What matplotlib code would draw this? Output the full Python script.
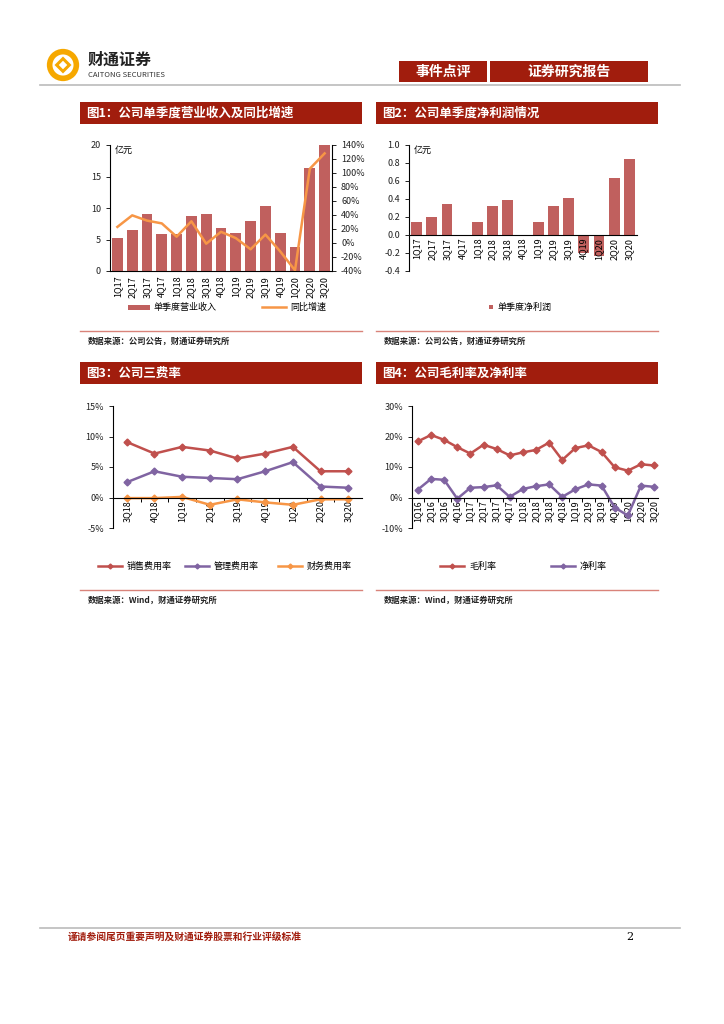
import matplotlib.pyplot as plt
import matplotlib.patches as mpatches
from matplotlib.lines import Line2D
from matplotlib.ticker import FuncFormatter, FixedLocator
import numpy as np

plt.rcParams['font.family'] = ['Noto Sans CJK SC', 'DejaVu Sans']
plt.rcParams['axes.linewidth'] = 0.8

W, H = 724, 1024
RED = '#A11D0D'
BAR = '#C0605E'
ORANGE = '#F79646'
PURPLE = '#8064A2'
LRED = '#C0504D'

# ---- data ----
q1 = ['1Q17', '2Q17', '3Q17', '4Q17', '1Q18', '2Q18', '3Q18', '4Q18',
      '1Q19', '2Q19', '3Q19', '4Q19', '1Q20', '2Q20', '3Q20']
revenue = [5.2, 6.45, 9.1, 5.8, 5.8, 8.7, 9.1, 6.8, 6.0, 7.9, 10.3, 6.0, 3.75, 16.3, 20.1]
growth = [23, 39.5, 32, 28, 9, 31, -1, 16, 7, -9, 12, -12, -39, 106, 128]

net_profit = [0.14, 0.2, 0.35, 0.0, 0.15, 0.32, 0.39, 0.0, 0.15, 0.32, 0.41, -0.2, -0.23, 0.63, 0.84]

q3 = ['3Q18', '4Q18', '1Q19', '2Q19', '3Q19', '4Q19', '1Q20', '2Q20', '3Q20']
sales_rate = [9.1, 7.2, 8.3, 7.7, 6.4, 7.2, 8.3, 4.3, 4.3]
admin_rate = [2.5, 4.3, 3.4, 3.2, 3.0, 4.3, 5.8, 1.8, 1.6]
fin_rate = [-0.1, -0.1, 0.1, -1.2, -0.3, -0.8, -1.2, -0.3, -0.3]

q4 = ['1Q16', '2Q16', '3Q16', '4Q16', '1Q17', '2Q17', '3Q17', '4Q17', '1Q18', '2Q18',
      '3Q18', '4Q18', '1Q19', '2Q19', '3Q19', '4Q19', '1Q20', '2Q20', '3Q20']
gross_margin = [18.4, 20.5, 18.9, 16.5, 14.4, 17.3, 15.9, 13.8, 14.8, 15.6,
                18.0, 12.3, 16.2, 17.1, 14.9, 9.9, 8.8, 10.9, 10.5]
net_margin = [2.6, 6.1, 5.8, -0.4, 3.2, 3.4, 4.0, 0.2, 2.8, 3.7,
              4.3, 0.2, 2.7, 4.3, 3.9, -3.3, -5.9, 3.9, 3.5]


def rect(x0, y0, x1, y1):
    return [x0 / W, 1 - y1 / H, (x1 - x0) / W, (y1 - y0) / H]


def fx(x):
    return x / W


def fy(y):
    return 1 - y / H


fig = plt.figure(figsize=(W / 100, H / 100), dpi=100)

# ---- header ----
logo = fig.add_axes(rect(46, 48, 80, 82))
logo.set_xlim(-1, 1)
logo.set_ylim(-1, 1)
logo.axis('off')
logo.add_patch(mpatches.Circle((0, 0), 0.95, fc='#F6A800', ec='none'))
logo.add_patch(mpatches.Circle((0, 0), 0.62, fc='white', ec='none'))
logo.add_patch(mpatches.RegularPolygon((0, 0), 4, radius=0.5, fc='#F6A800', ec='none'))
logo.add_patch(mpatches.RegularPolygon((0, 0), 4, radius=0.25, fc='white', ec='none'))
fig.text(fx(88), fy(60), '财通证券', fontsize=11.5, fontweight='bold', color='#222222', va='center')
fig.text(fx(88), fy(75), 'CAITONG SECURITIES', fontsize=5.5, color='#333333', va='center')

for x0, x1, label in [(399, 487, '事件点评'), (490, 648, '证券研究报告')]:
    fig.patches.append(mpatches.Rectangle((fx(x0), fy(82)), fx(x1 - x0), (82 - 61) / H,
                                          transform=fig.transFigure, fc=RED, ec='none'))
    fig.text(fx((x0 + x1) / 2), fy(72), label, fontsize=10, fontweight='bold',
             color='white', ha='center', va='center')
fig.add_artist(Line2D([fx(40), fx(680)], [fy(85), fy(85)], color='#BBBBBB', lw=1.2))

# ---- panel titles and sources ----
titles = [(80, 362, 102, '图1：公司单季度营业收入及同比增速'),
          (376, 658, 102, '图2：公司单季度净利润情况'),
          (80, 362, 362, '图3：公司三费率'),
          (376, 658, 362, '图4：公司毛利率及净利率')]
for x0, x1, y0, label in titles:
    fig.patches.append(mpatches.Rectangle((fx(x0), fy(y0 + 22)), fx(x1 - x0), 22 / H,
                                          transform=fig.transFigure, fc=RED, ec='none'))
    fig.text(fx(x0 + 6), fy(y0 + 11), label, fontsize=9, fontweight='bold',
             color='white', va='center')

sources = [(80, 362, 331, '数据来源：公司公告，财通证券研究所'),
           (376, 658, 331, '数据来源：公司公告，财通证券研究所'),
           (80, 362, 590, '数据来源：Wind，财通证券研究所'),
           (376, 658, 590, '数据来源：Wind，财通证券研究所')]
for x0, x1, y, label in sources:
    fig.add_artist(Line2D([fx(x0), fx(x1)], [fy(y), fy(y)], color='#D9837A', lw=1.0))
    fig.text(fx(x0 + 8), fy(y + 10), label, fontsize=6, fontweight='bold',
             color='#222222', va='center')

pct = FuncFormatter(lambda v, p: f'{v:.0f}%')
tick_kw = dict(labelsize=6.5, length=3, width=0.7, colors='#222222')

# ---- chart 1 ----
ax1 = fig.add_axes(rect(110, 145, 332, 271))
x = np.arange(len(q1))
ax1.bar(x, revenue, width=0.72, color=BAR, zorder=2)
ax1.set_xlim(-0.5, len(q1) - 0.5)
ax1.set_ylim(0, 20)
ax1.set_yticks([0, 5, 10, 15, 20])
ax1.set_xticks(x)
ax1.set_xticklabels(q1, rotation=90)
ax1.tick_params(axis='y', **tick_kw)
ax1.tick_params(axis='x', labelsize=6.5, length=0)
for s in ['top', 'right']:
    ax1.spines[s].set_visible(False)
ax1.text(0.02, 0.99, '亿元', transform=ax1.transAxes, fontsize=6.5, va='top')
ax1b = ax1.twinx()
ax1b.plot(x, growth, color=ORANGE, lw=1.8, zorder=3)
ax1b.set_ylim(-40, 140)
ax1b.set_yticks(range(-40, 141, 20))
ax1b.yaxis.set_major_formatter(pct)
ax1b.tick_params(axis='y', **tick_kw)
for s in ['top', 'left', 'bottom']:
    ax1b.spines[s].set_visible(False)
fig.patches.append(mpatches.Rectangle((fx(128), fy(310)), fx(22), 5 / H,
                                      transform=fig.transFigure, fc=BAR, ec='none'))
fig.text(fx(154), fy(307), '单季度营业收入', fontsize=6.5, va='center')
fig.add_artist(Line2D([fx(262), fx(286)], [fy(307), fy(307)], color=ORANGE, lw=1.8))
fig.text(fx(290), fy(307), '同比增速', fontsize=6.5, va='center')

# ---- chart 2 ----
ax2 = fig.add_axes(rect(409, 145, 637, 271))
x = np.arange(len(q1))
ax2.bar(x, net_profit, width=0.72, color=BAR, zorder=2)
ax2.set_axisbelow(False)
ax2.set_xlim(-0.5, len(q1) - 0.5)
ax2.set_ylim(-0.4, 1.0)
ax2.set_yticks(np.arange(-0.4, 1.01, 0.2))
ax2.yaxis.set_major_formatter(FuncFormatter(lambda v, p: f'{v:.1f}'))
ax2.spines['bottom'].set_position(('data', 0))
for s in ['top', 'right']:
    ax2.spines[s].set_visible(False)
ax2.set_xticks(x)
ax2.set_xticklabels(q1, rotation=90)
ax2.tick_params(axis='y', **tick_kw)
ax2.tick_params(axis='x', labelsize=6.5, length=0, pad=2)
ax2.text(0.02, 0.99, '亿元', transform=ax2.transAxes, fontsize=6.5, va='top')
fig.patches.append(mpatches.Rectangle((fx(489), fy(309)), fx(4), 4 / H,
                                      transform=fig.transFigure, fc=BAR, ec='none'))
fig.text(fx(497), fy(307), '单季度净利润', fontsize=6.5, va='center')

# ---- chart 3 ----
ax3 = fig.add_axes(rect(113, 406, 362, 528))
x = np.arange(len(q3))
mk = dict(marker='D', markersize=3.5, lw=1.8)
ax3.plot(x, sales_rate, color=LRED, **mk)
ax3.plot(x, admin_rate, color=PURPLE, **mk)
ax3.plot(x, fin_rate, color=ORANGE, **mk)
ax3.set_xlim(-0.5, len(q3) - 0.5)
ax3.set_ylim(-5, 15)
ax3.set_yticks([-5, 0, 5, 10, 15])
ax3.yaxis.set_major_formatter(pct)
ax3.spines['bottom'].set_position(('data', 0))
for s in ['top', 'right']:
    ax3.spines[s].set_visible(False)
ax3.set_xticks(x)
ax3.set_xticklabels(q3, rotation=90)
ax3.xaxis.set_minor_locator(FixedLocator(x[:-1] + 0.5))
ax3.tick_params(axis='x', which='major', labelsize=6.5, length=0, pad=2)
ax3.tick_params(axis='x', which='minor', length=3, width=0.7)
ax3.tick_params(axis='y', **tick_kw)
leg3 = [(98, '销售费用率', LRED), (185, '管理费用率', PURPLE), (278, '财务费用率', ORANGE)]
for x0, label, c in leg3:
    fig.add_artist(Line2D([fx(x0), fx(x0 + 24)], [fy(566), fy(566)], color=c, lw=1.8))
    fig.add_artist(Line2D([fx(x0 + 12)], [fy(566)], color=c, marker='D', markersize=2.5))
    fig.text(fx(x0 + 29), fy(566), label, fontsize=6.5, va='center')

# ---- chart 4 ----
ax4 = fig.add_axes(rect(412, 406, 658, 528))
x = np.arange(len(q4))
ax4.plot(x, gross_margin, color=LRED, **mk)
ax4.plot(x, net_margin, color=PURPLE, **mk)
ax4.set_xlim(-0.45, 18.3)
ax4.set_ylim(-10, 30)
ax4.set_yticks([-10, 0, 10, 20, 30])
ax4.yaxis.set_major_formatter(pct)
ax4.spines['bottom'].set_position(('data', 0))
for s in ['top', 'right']:
    ax4.spines[s].set_visible(False)
ax4.set_xticks(x)
ax4.set_xticklabels(q4, rotation=90)
ax4.xaxis.set_minor_locator(FixedLocator(x[:-1] + 0.5))
ax4.tick_params(axis='x', which='major', labelsize=6.5, length=0, pad=2)
ax4.tick_params(axis='x', which='minor', length=3, width=0.7)
ax4.tick_params(axis='y', **tick_kw)
leg4 = [(440, '毛利率', LRED), (551, '净利率', PURPLE)]
for x0, label, c in leg4:
    fig.add_artist(Line2D([fx(x0), fx(x0 + 24)], [fy(566), fy(566)], color=c, lw=1.8))
    fig.add_artist(Line2D([fx(x0 + 12)], [fy(566)], color=c, marker='D', markersize=2.5))
    fig.text(fx(x0 + 29), fy(566), label, fontsize=6.5, va='center')

# ---- footer ----
fig.add_artist(Line2D([fx(40), fx(680)], [fy(928), fy(928)], color='#BBBBBB', lw=1.2))
fig.text(fx(68), fy(937), '谨请参阅尾页重要声明及财通证券股票和行业评级标准', fontsize=7,
         fontweight='bold', color=RED, va='center')
fig.text(fx(626), fy(937), '2', fontsize=8, va='center', family='DejaVu Serif')

fig.savefig('out.png', dpi=100)
